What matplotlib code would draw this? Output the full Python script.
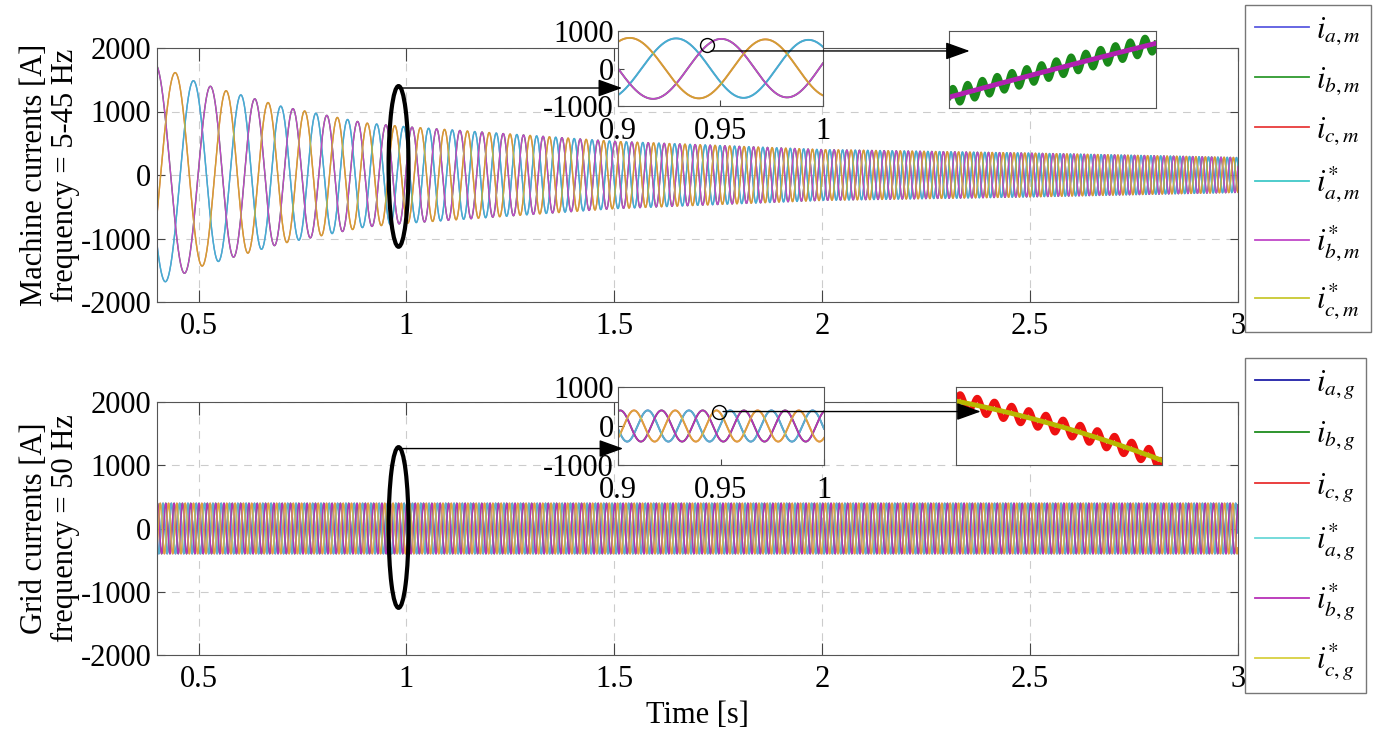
import numpy as np
import matplotlib
matplotlib.use('Agg')
import matplotlib.pyplot as plt
from matplotlib.patches import Ellipse
from matplotlib.text import Annotation

plt.rcParams['font.family'] = ['Liberation Serif', 'DejaVu Serif']
plt.rcParams['mathtext.fontset'] = 'stix'
plt.rcParams['axes.unicode_minus'] = False

# machine currents: envelope + frequency
t_env = [0.4, 0.5, 0.7, 0.9, 1.0, 1.5, 2.0, 2.5, 3.0]
amp_machine = [1740, 1450, 1080, 820, 760, 530, 400, 345, 275]
freq_machine = [6.6, 8.1, 11.2, 14.4, 16.2, 24.5, 32.0, 39.0, 45.0]
phase_machine_at_09 = 210      # deg, phase a at t = 0.9 s

# grid currents
grid_amp = 400
grid_freq = 50
grid_phase = 100               # deg

# zoomed views
zoom_xlim = [0.9, 1.0]
zoom_ylim = [-1000, 1000]
zoom_xticks = [0.9, 0.95, 1.0]
zoom_xlabels = ['0.9', '0.95', '1']
zoom_yticks = [-1000, 0, 1000]
circ_t_machine = 0.9434
circ_t_grid = 0.949
detail_halfwidth = 0.0004
ripple_machine = 6.0           # A
ripple_machine_f = 17500       # Hz
ripple_grid = 5.0
ripple_grid_f = 15000

xticks = [0.5, 1, 1.5, 2, 2.5, 3]
xticklabels = ['0.5', '1', '1.5', '2', '2.5', '3']
yticks = [-2000, -1000, 0, 1000, 2000]

labels_m = [r'$i_{a,m}$', r'$i_{b,m}$', r'$i_{c,m}$',
            r'$i^{*}_{a,m}$', r'$i^{*}_{b,m}$', r'$i^{*}_{c,m}$']
labels_g = [r'$i_{a,g}$', r'$i_{b,g}$', r'$i_{c,g}$',
            r'$i^{*}_{a,g}$', r'$i^{*}_{b,g}$', r'$i^{*}_{c,g}$']
cols_m = ['#5a5ae0', '#2e9a2e', '#e83a3a', '#40c8c8', '#c048c8', '#c8c830']
cols_g = ['#2020a8', '#1e8c1e', '#e83030', '#6ad8d8', '#b830b8', '#d8d040']
ref_alpha = [0.8, 1.0, 0.72]

# ---- signals
t_m = np.linspace(0.4, 3.0, 26001)
f_m = np.interp(t_m, t_env, freq_machine)
cyc = np.concatenate([[0], np.cumsum(0.5*(f_m[1:]+f_m[:-1])*np.diff(t_m))])
cyc = cyc - np.interp(0.9, t_m, cyc)
th_m = 2*np.pi*cyc + np.deg2rad(phase_machine_at_09)

def machine(t):
    th = np.interp(t, t_m, th_m)
    A = np.interp(t, t_env, amp_machine)
    return [A*np.cos(th), A*np.cos(th-2*np.pi/3), A*np.cos(th+2*np.pi/3)]

def grid(t):
    th = 2*np.pi*grid_freq*t + np.deg2rad(grid_phase)
    return [grid_amp*np.cos(th), grid_amp*np.cos(th-2*np.pi/3), grid_amp*np.cos(th+2*np.pi/3)]

t_g = np.linspace(0.4, 3.0, 40001)

fig = plt.figure(figsize=(13.8, 7.31), dpi=100)
W, H = 1380., 731.
def px(x0, y0, x1, y1):
    return [x0/W, 1-y1/H, (x1-x0)/W, (y1-y0)/H]

ax1 = fig.add_axes(px(157, 48, 1238, 302))
ax2 = fig.add_axes(px(157, 402, 1238, 655))

def style_main(ax):
    ax.set_xlim(0.4, 3.0)
    ax.set_ylim(-2000, 2000)
    ax.set_xticks(xticks)
    ax.set_xticklabels(xticklabels)
    ax.set_yticks(yticks)
    ax.grid(True, ls=(0, (7, 6)), color='#cccccc', lw=0.8)
    ax.tick_params(direction='in', top=True, right=True, labelsize=22, color='#444444')
    ax.tick_params(axis='x', length=9, pad=7)
    ax.tick_params(axis='y', length=6, pad=4)
    for s in ax.spines.values():
        s.set_color('#555555')

def draw_six(ax, t, sig, cols, lw):
    hs = []
    for k in range(3):
        hs.append(ax.plot(t, sig[k], color=cols[k], lw=lw)[0])
    for k in range(3):
        hs.append(ax.plot(t, sig[k], color=cols[k+3], lw=lw, alpha=ref_alpha[k])[0])
    return hs

hm = draw_six(ax1, t_m, machine(t_m), cols_m, 1.0)
hg = draw_six(ax2, t_g, grid(t_g), cols_g, 1.0)
style_main(ax1)
style_main(ax2)

ax1.set_ylabel('Machine currents [A]\nfrequency = 5-45 Hz', fontsize=22, linespacing=1.1)
ax2.set_ylabel('Grid currents [A]\nfrequency = 50 Hz', fontsize=22, linespacing=1.1)
ax1.yaxis.set_label_coords(-0.071, 0.5)
ax2.yaxis.set_label_coords(-0.071, 0.5)
ax2.set_xlabel('Time [s]', fontsize=22, labelpad=5)

ax1.add_patch(Ellipse((0.981, 135), 0.048, 2530, fill=False, lw=3, ec='k', zorder=6))
ax2.add_patch(Ellipse((0.981, 16), 0.048, 2540, fill=False, lw=3, ec='k', zorder=6))

# ---- zoom insets
z1 = fig.add_axes(px(618, 31, 823, 106))
z2 = fig.add_axes(px(949, 31, 1156, 108))
z3 = fig.add_axes(px(618, 387, 824, 465))
z4 = fig.add_axes(px(956, 387, 1162, 465))

tz = np.linspace(zoom_xlim[0], zoom_xlim[1], 2001)
draw_six(z1, tz, machine(tz), cols_m, 1.3)
draw_six(z3, tz, grid(tz), cols_g, 1.3)
for z in (z1, z3):
    z.set_xlim(zoom_xlim)
    z.set_ylim(zoom_ylim)
    z.set_xticks(zoom_xticks)
    z.set_xticklabels(zoom_xlabels)
    z.set_yticks(zoom_yticks)
    z.tick_params(direction='in', labelsize=22, length=4, color='#444444')
    z.tick_params(axis='x', pad=8)
    z.tick_params(axis='y', pad=3)
    for s in z.spines.values():
        s.set_color('#555555')

yc_m = machine(circ_t_machine)[1]
yc_g = grid(circ_t_grid)[2]
z1.plot(circ_t_machine, yc_m, 'o', mfc='none', mec='k', ms=10, mew=1.0)
z3.plot(circ_t_grid, yc_g, 'o', mfc='none', mec='k', ms=10, mew=1.0)

# detail windows
td = np.linspace(circ_t_machine-detail_halfwidth, circ_t_machine+detail_halfwidth, 801)
ref_b = machine(td)[1]
act_b = ref_b + ripple_machine*np.sin(2*np.pi*ripple_machine_f*(td-td[0]))
z2.plot(td, act_b, color='#1a8a1a', lw=4)
z2.plot(td, ref_b, color='#b020b0', lw=3.5)
span = (ref_b[-1]-ref_b[0])/0.70
z2.set_ylim(ref_b[0]-0.14*span, ref_b[0]+0.86*span)
z2.set_xlim(td[0], td[-1])

tg = np.linspace(circ_t_grid-detail_halfwidth, circ_t_grid+detail_halfwidth, 801)
ref_c = grid(tg)[2]
act_c = ref_c + ripple_grid*np.sin(2*np.pi*ripple_grid_f*(tg-tg[0]))
z4.plot(tg, act_c, color='#ee1111', lw=4)
z4.plot(tg, ref_c, color='#b8b800', lw=3.5)
span = (ref_c[0]-ref_c[-1])/0.76
z4.set_ylim(ref_c[-1]-0.06*span, ref_c[-1]+0.94*span)
z4.set_xlim(tg[0], tg[-1])
for z in (z2, z4):
    z.set_xticks([])
    z.set_yticks([])
    for s in z.spines.values():
        s.set_color('#555555')

# ---- arrows
aprops = dict(arrowstyle='-|>,head_length=0.75,head_width=0.27', color='k', lw=1.0,
              mutation_scale=20, shrinkA=0, shrinkB=0)
def arrow(xy, xycoords, xytext, textcoords):
    a = Annotation('', xy=xy, xycoords=xycoords, xytext=xytext, textcoords=textcoords,
                   arrowprops=aprops)
    fig.add_artist(a)

arrow((0.02, 1370), (z1.transAxes, ax1.transData), (0.985, 1370), ax1.transData)
arrow((0.025, 1264), (z3.transAxes, ax2.transData), (0.985, 1264), ax2.transData)
arrow((0.10, yc_m-150), (z2.transAxes, z1.transData), (circ_t_machine+0.002, yc_m-150), z1.transData)
arrow((0.12, yc_g), (z4.transAxes, z3.transData), (circ_t_grid+0.002, yc_g), z3.transData)

# ---- legends
for hs, labs, y_top in ((hm, labels_m, 5), (hg, labels_g, 358)):
    lg = fig.legend(hs, labs, loc='upper left', bbox_to_anchor=(1245/W, 1-y_top/H),
                    fontsize=22, frameon=True, fancybox=False, handlelength=1.75,
                    labelspacing=0.6, borderaxespad=0, borderpad=0.33, handletextpad=0.25)
    lg.get_frame().set_edgecolor('#555555')
    lg.get_frame().set_linewidth(1.0)
    for l in lg.get_lines():
        l.set_alpha(1)
        l.set_linewidth(1.3)

fig.savefig('out.png', dpi=100)
